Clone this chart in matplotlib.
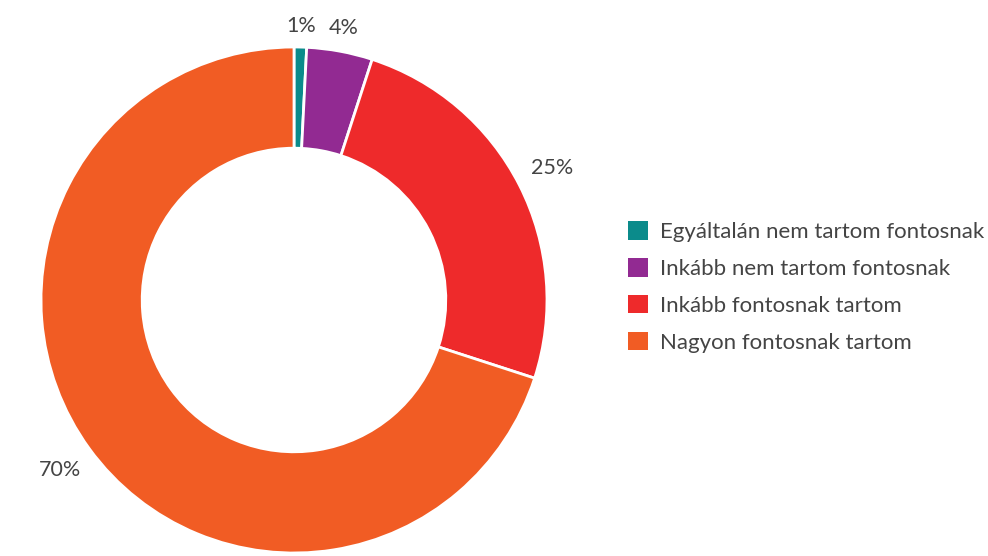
import matplotlib
matplotlib.use("Agg")
import matplotlib.pyplot as plt
import numpy as np
from matplotlib.patches import Patch

categories = ["Egyáltalán nem tartom fontosnak", "Inkább nem tartom fontosnak",
              "Inkább fontosnak tartom", "Nagyon fontosnak tartom"]
values = [0.8, 4.2, 25.0, 70.0]
labels = ["1%", "4%", "25%", "70%"]
colors = ["#0b8b8b", "#922a92", "#ee2a2b", "#f15c24"]

plt.rcParams['font.family'] = ['Lato', 'DejaVu Sans']
W, H = 988, 556
fig = plt.figure(figsize=(W/100, H/100), dpi=100)
cx, cy, R = 294, 300, 253
ax = fig.add_axes([(cx-R)/W, (H-cy-R)/H, 2*R/W, 2*R/H])

wedges, _ = ax.pie(values, colors=colors, startangle=90, counterclock=False, radius=1.0,
                   wedgeprops=dict(width=0.4, edgecolor='white', linewidth=2))
ax.set_xlim(-1, 1); ax.set_ylim(-1, 1)
ax.set_aspect('equal')
ax.axis('off')

renderer = fig.canvas.get_renderer()
total = sum(values)
cum = 0
for v, lab in zip(values, labels):
    mid = 90 - 360 * (cum + v/2) / total
    cum += v
    ux, uy = np.cos(np.radians(mid)), np.sin(np.radians(mid))
    t = ax.text(0, 0, lab, ha='center', va='center', fontsize=15.5, color='#444444')
    bb = t.get_window_extent(renderer)
    hw = bb.width / 2 / R   # half width in data units
    hh = bb.height / 2 / R
    r = 1.06 + hw*abs(ux) + hh*abs(uy) * 0.6
    t.set_position((r*ux, r*uy))

handles = [Patch(facecolor=c, edgecolor='none') for c in colors]
leg = fig.legend(handles, categories, loc='center left', bbox_to_anchor=(628/W, (H-287)/H),
                 frameon=False, fontsize=16, handlelength=0.9, handleheight=0.9,
                 handletextpad=0.54, labelspacing=0.72, borderpad=0, borderaxespad=0)
for t in leg.get_texts():
    t.set_color('#444444')

fig.savefig("out.png", dpi=100)
